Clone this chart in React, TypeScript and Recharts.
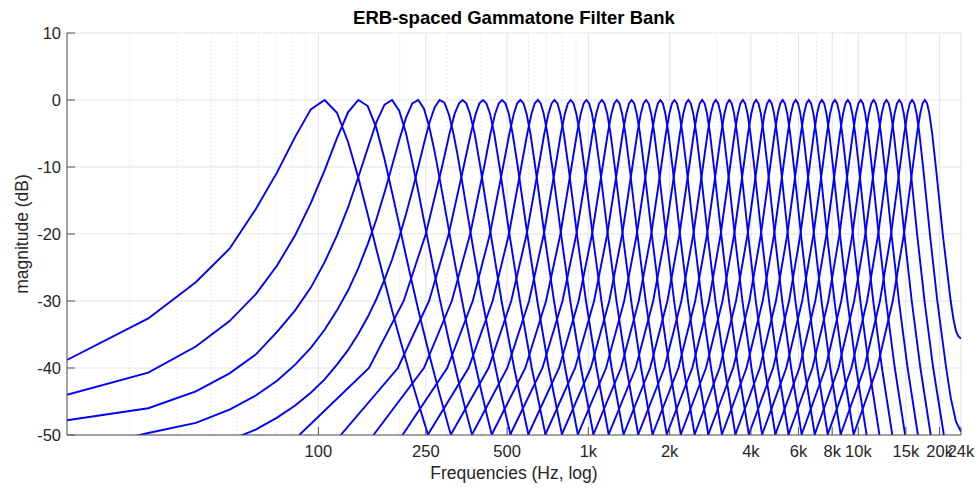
import React from 'react';
import { LineChart, Line, XAxis, YAxis, CartesianGrid } from 'recharts';

type Pt = [number, number];

const FONT = '"Liberation Sans", Arial, Helvetica, sans-serif';
const BLUE = '#0000ff';
const AXIS = '#555555';

// axis ticks
const X_TICKS = [100, 250, 500, 1000, 2000, 4000, 6000, 8000, 10000, 15000, 20000, 24000];
const X_TICK_LABELS = ['100', '250', '500', '1k', '2k', '4k', '6k', '8k', '10k', '15k', '20k', '24k'];
const X_MINOR = [20, 30, 40, 50, 60, 70, 80, 90, 200, 300, 400, 600, 700, 800, 900, 3000, 5000, 7000, 9000];
const Y_TICKS = [-50, -40, -30, -20, -10, 0, 10];

// lowest filters, read at the FFT bins (Hz, dB)
const b00: Pt[] = [[11.72, -38.8], [23.44, -32.6], [35.16, -27.2], [46.88, -22.2], [58.59, -16.3], [70.31, -10.8], [82.03, -5.5], [93.75, -1.4], [105.47, 0], [117.19, -1.9], [128.91, -6.3], [140.63, -11.6], [152.34, -17.1], [164.06, -22.3], [175.78, -27.0], [187.5, -31.4], [199.22, -35.3], [210.94, -38.8], [222.66, -42.2], [234.38, -45.2], [246.09, -48.0], [257.81, -50.6]];
const b01: Pt[] = [[11.72, -44.0], [23.44, -40.7], [35.16, -36.8], [46.88, -33.0], [58.59, -29.0], [70.31, -24.7], [82.03, -20.2], [93.75, -15.4], [105.47, -10.5], [117.19, -5.7], [128.91, -1.8], [140.63, 0], [152.34, -0.9], [164.06, -4.2], [175.78, -8.8], [187.5, -13.8], [199.22, -18.6], [210.94, -23.2], [222.66, -27.4], [234.38, -31.3], [257.81, -38.1], [281.25, -43.9], [304.69, -49.0], [316.41, -51.2]];
const b02: Pt[] = [[11.72, -47.8], [23.44, -46.0], [35.16, -43.5], [46.88, -40.8], [58.59, -38.0], [70.31, -34.6], [82.03, -31.4], [93.75, -28.0], [105.47, -24.2], [117.19, -20.2], [128.91, -16.0], [140.63, -11.5], [152.34, -7.2], [164.06, -3.3], [175.78, -0.7], [187.5, 0], [199.22, -1.6], [210.94, -4.9], [222.66, -9.2], [234.38, -13.6], [246.09, -18.0], [257.81, -22.1], [269.53, -26.0], [281.25, -29.6], [304.69, -36.0], [328.13, -41.5], [351.56, -46.4], [375, -50.7]];
const b03: Pt[] = [[11.72, -52.5], [23.44, -49.7], [35.16, -48.2], [46.88, -46.2], [58.59, -44.1], [70.31, -41.9], [82.03, -39.5], [93.75, -37.0], [105.47, -34.3], [117.19, -31.4], [128.91, -28.4], [140.63, -25.1], [152.34, -21.5], [164.06, -17.8], [175.78, -13.8], [187.5, -9.8], [199.22, -6.0], [210.94, -2.7], [222.66, -0.5], [234.38, 0], [246.09, -1.3], [257.81, -4.1], [269.53, -7.7], [281.25, -11.7], [292.97, -15.7], [304.69, -19.5], [316.41, -23.2], [328.13, -26.6], [351.56, -32.8], [375, -38.2], [398.44, -42.9], [421.88, -47.2], [445.31, -51.0]];
const b04: Pt[] = [[35.16, -52.4], [46.88, -50.8], [58.59, -49.2], [70.31, -47.4], [82.03, -45.6], [93.75, -43.7], [105.47, -41.7], [117.19, -39.5], [128.91, -37.3], [140.63, -34.9], [152.34, -32.4], [164.06, -29.7], [175.78, -26.8], [187.5, -23.8], [199.22, -20.5], [210.94, -17.1], [222.66, -13.6], [234.38, -10.0], [246.09, -6.5], [257.81, -3.4], [269.53, -1.1], [281.25, 0], [292.97, -0.4], [304.69, -2.2], [316.41, -5.0], [328.13, -8.3], [339.84, -11.9], [351.56, -15.5], [375, -22.3], [398.44, -28.4], [421.88, -33.7], [445.31, -38.5], [468.75, -42.8], [492.19, -46.6], [527.34, -51.7]];

// middle filters: frequency (Hz) where each filter passes these levels (dB)
const LEVELS = [-50, -40, -30, -20, -10, -5, -2, -0.5, 0, -0.5, -2, -5, -10, -20, -30, -40, -50];
const b05 = [85, 154, 207, 250, 287, 306, 320, 332, 342, 353, 364, 379, 398, 435, 477, 531, 600];
const b06 = [121, 197, 257, 304, 345, 367, 383, 395, 407, 419, 432, 448, 469, 510, 558, 617, 694];
const b07 = [160, 246, 312, 365, 411, 434, 452, 466, 479, 493, 507, 524, 548, 594, 647, 713, 799];
const b08 = [205, 300, 373, 432, 483, 510, 530, 545, 560, 575, 590, 610, 636, 687, 746, 820, 915];
const b09 = [254, 360, 442, 508, 564, 594, 616, 633, 650, 666, 683, 705, 735, 792, 857, 939, 1045];
const b10 = [309, 427, 518, 591, 654, 687, 712, 731, 749, 768, 787, 811, 844, 907, 980, 1072, 1190];
const b11 = [370, 501, 603, 684, 755, 791, 819, 840, 860, 881, 902, 930, 966, 1036, 1118, 1220, 1351];
const b12 = [438, 584, 697, 788, 866, 907, 938, 961, 984, 1007, 1031, 1061, 1102, 1180, 1271, 1384, 1531];
const b13 = [513, 676, 802, 903, 991, 1036, 1070, 1096, 1122, 1147, 1174, 1208, 1253, 1340, 1441, 1568, 1730];
const b14 = [598, 779, 920, 1032, 1129, 1180, 1218, 1247, 1275, 1304, 1333, 1371, 1421, 1519, 1631, 1772, 1953];
const b15 = [692, 893, 1050, 1175, 1284, 1340, 1382, 1415, 1446, 1478, 1510, 1553, 1609, 1717, 1842, 1999, 2201];
const b16 = [796, 1021, 1195, 1335, 1455, 1518, 1565, 1601, 1636, 1672, 1708, 1755, 1817, 1938, 2078, 2252, 2477];
const b17 = [913, 1163, 1357, 1512, 1647, 1716, 1769, 1809, 1848, 1887, 1928, 1980, 2050, 2184, 2340, 2534, 2784];
const b18 = [1042, 1321, 1537, 1710, 1860, 1937, 1996, 2041, 2084, 2128, 2173, 2231, 2309, 2458, 2631, 2848, 3126];
const b19 = [1187, 1497, 1738, 1931, 2097, 2183, 2248, 2299, 2347, 2395, 2446, 2511, 2597, 2764, 2956, 3197, 3507];
const b20 = [1348, 1693, 1962, 2176, 2362, 2458, 2530, 2586, 2640, 2694, 2750, 2822, 2918, 3104, 3318, 3586, 3932];
const b21 = [1527, 1912, 2210, 2449, 2656, 2763, 2843, 2906, 2966, 3026, 3088, 3169, 3276, 3482, 3721, 4020, 4405];
const b22 = [1726, 2155, 2487, 2753, 2984, 3103, 3192, 3262, 3329, 3396, 3465, 3555, 3674, 3904, 4170, 4502, 4931];
const b23 = [1948, 2426, 2796, 3092, 3348, 3481, 3581, 3658, 3733, 3807, 3885, 3984, 4117, 4373, 4669, 5039, 5517];
const b24 = [2195, 2727, 3140, 3470, 3755, 3903, 4014, 4100, 4183, 4266, 4352, 4463, 4611, 4896, 5226, 5639, 6170];
const b25 = [2471, 3063, 3522, 3890, 4208, 4372, 4496, 4592, 4684, 4777, 4873, 4996, 5161, 5479, 5846, 6306, 6897];
const b26 = [2777, 3437, 3948, 4358, 4711, 4895, 5032, 5139, 5242, 5345, 5452, 5590, 5773, 6127, 6536, 7047, 7707];
const b27 = [3119, 3853, 4423, 4878, 5272, 5476, 5629, 5748, 5863, 5978, 6097, 6250, 6454, 6848, 7304, 7873, 8607];
const b28 = [3499, 4317, 4951, 5458, 5897, 6124, 6295, 6427, 6555, 6683, 6815, 6986, 7213, 7652, 8159, 8794, 9611];
const b29 = [3922, 4833, 5539, 6104, 6593, 6846, 7036, 7184, 7326, 7468, 7616, 7806, 8059, 8547, 9112, 9818, 10729];
const b30 = [4394, 5408, 6194, 6823, 7368, 7649, 7861, 8026, 8184, 8342, 8507, 8718, 9000, 9544, 10173, 10960, 11974];
const b31 = [4919, 6048, 6924, 7625, 8231, 8544, 8780, 8963, 9139, 9316, 9499, 9735, 10048, 10654, 11355, 12231, 13360];
const b32 = [5504, 6761, 7737, 8517, 9191, 9541, 9803, 10007, 10204, 10400, 10604, 10866, 11216, 11890, 12670, 13646, 14903];
const b33 = [6155, 7555, 8642, 9510, 10262, 10650, 10943, 11170, 11389, 11607, 11834, 12127, 12516, 13267, 14136, 15222, 16622];
const b34 = [6880, 8439, 9649, 10616, 11453, 11886, 12211, 12465, 12708, 12951, 13205, 13530, 13963, 14800, 15768, 16977, 18536];
const b35 = [7687, 9424, 10771, 11848, 12780, 13262, 13625, 13907, 14178, 14449, 14731, 15093, 15575, 16507, 17584, 18931, 20740];

// top two filters flatten out towards Nyquist
const b36: Pt[] = [[8587, -50], [10520, -40], [12021, -30], [13220, -20], [14258, -10], [14795, -5], [15198, -2], [15512, -0.5], [15814, 0], [16116, -0.5], [16430, -2], [16833, -5], [17370, -10], [18408, -20], [19608, -30], [21150, -40], [22000, -44.5], [23000, -48], [24000, -49.5]];
const b37: Pt[] = [[9593, -50], [11741, -40], [13412, -30], [14748, -20], [15903, -10], [16501, -5], [16951, -2], [17300, -0.5], [17636, 0], [17972, -0.5], [18322, -2], [18771, -5], [19369, -10], [20540, -20], [21980, -30], [22500, -32.7], [23000, -34.5], [23500, -35.3], [24000, -35.6]];

const fromPairs = (pts: Pt[]) => pts.map(([f, db]) => ({ f, db }));
const fromLevels = (freqs: number[]) => freqs.map((f, j) => ({ f, db: LEVELS[j] }));

const bands = [
  ...[b00, b01, b02, b03, b04].map(fromPairs),
  ...[b05, b06, b07, b08, b09, b10, b11, b12, b13, b14, b15, b16, b17, b18, b19, b20,
    b21, b22, b23, b24, b25, b26, b27, b28, b29, b30, b31, b32, b33, b34, b35].map(fromLevels),
  fromPairs(b36),
  fromPairs(b37),
];

const X_DOMAIN: [number, number] = [11.72, 24000];
const Y_DOMAIN: [number, number] = [-50, 10];
const tickFont = { fill: '#262626', fontSize: 16.5, fontFamily: FONT };
const blank = () => '';

export default function App() {
  return (
    <div style={{ position: 'absolute', left: 0, top: 0, width: 979, height: 490, background: '#fff', fontFamily: FONT }}>
      <div style={{ position: 'absolute', left: 67, top: 8, width: 894, lineHeight: '20px', textAlign: 'center', fontSize: 18.5, fontWeight: 'bold', color: '#000' }}>
        ERB-spaced Gammatone Filter Bank
      </div>
      <div style={{ position: 'absolute', left: 67, top: 463, width: 894, lineHeight: '20px', textAlign: 'center', fontSize: 17.5, color: '#262626' }}>
        Frequencies (Hz, log)
      </div>
      <div style={{ position: 'absolute', left: -128, top: 224, width: 300, lineHeight: '20px', textAlign: 'center', fontSize: 17.5, color: '#262626', transform: 'rotate(-90deg)' }}>
        magnitude (dB)
      </div>
      <LineChart width={979} height={490} margin={{ top: 33, right: 18, bottom: 15, left: 17 }}>
        <XAxis xAxisId="xminor" type="number" scale="log" dataKey="f" domain={X_DOMAIN} allowDataOverflow
          ticks={X_MINOR} interval={0} height={0} axisLine={false} tickSize={-4} tickLine={{ stroke: AXIS }} tickFormatter={blank} />
        <XAxis xAxisId="x" type="number" scale="log" dataKey="f" domain={X_DOMAIN} allowDataOverflow
          ticks={X_TICKS} interval={0} height={40} axisLine={{ stroke: AXIS }} tickSize={-8} tickMargin={18}
          tickLine={{ stroke: AXIS }} tick={tickFont} tickFormatter={(v: number) => X_TICK_LABELS[X_TICKS.indexOf(v)]} />
        <XAxis xAxisId="xtopminor" orientation="top" type="number" scale="log" dataKey="f" domain={X_DOMAIN} allowDataOverflow
          ticks={X_MINOR} interval={0} height={0} axisLine={false} tickSize={-4} tickLine={{ stroke: AXIS }} tickFormatter={blank} />
        <XAxis xAxisId="xtop" orientation="top" type="number" scale="log" dataKey="f" domain={X_DOMAIN} allowDataOverflow
          ticks={X_TICKS} interval={0} height={0} axisLine={{ stroke: AXIS }} tickSize={-8} tickLine={{ stroke: AXIS }} tickFormatter={blank} />
        <YAxis yAxisId="y" type="number" domain={Y_DOMAIN} allowDataOverflow ticks={Y_TICKS} interval={0} width={50}
          axisLine={{ stroke: AXIS }} tickSize={-8} tickMargin={14} tickLine={{ stroke: AXIS }} tick={tickFont} />
        <YAxis yAxisId="yright" orientation="right" type="number" domain={Y_DOMAIN} allowDataOverflow ticks={Y_TICKS} interval={0} width={0}
          axisLine={{ stroke: AXIS }} tickSize={-8} tickLine={{ stroke: AXIS }} tickFormatter={blank} />
        <CartesianGrid xAxisId="xminor" yAxisId="y" horizontal={false} stroke="#d6d6d6" strokeDasharray="1 3" />
        <CartesianGrid xAxisId="x" yAxisId="y" stroke="#e3e3e3" />
        {bands.map((data, i) => (
          <Line key={i} xAxisId="x" yAxisId="y" data={data} dataKey="db" type="linear" stroke={BLUE}
            strokeWidth={1.9} dot={false} activeDot={false} isAnimationActive={false} />
        ))}
      </LineChart>
    </div>
  );
}
